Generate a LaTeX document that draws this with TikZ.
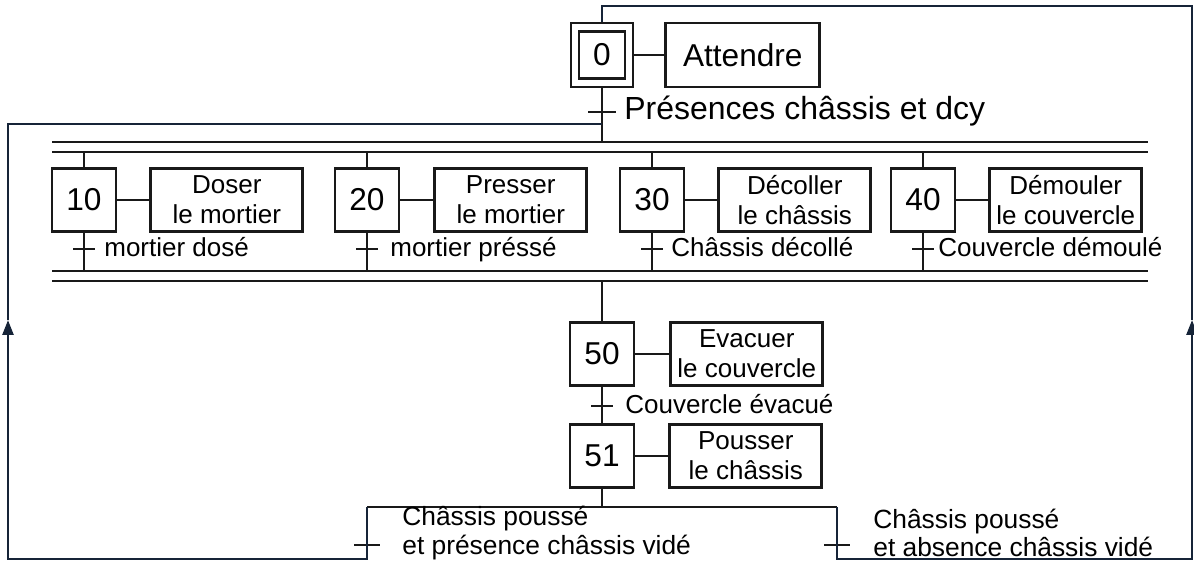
\documentclass[tikz,border=0pt]{standalone}
\usepackage{fontspec}
\setmainfont{Liberation Sans}
\usepackage{tikz}
\usetikzlibrary{arrows.meta, positioning}
\definecolor{linecol} {RGB}{25, 25, 25}
\definecolor{backclr} {RGB}{22, 36, 56}

\begin{document}
\begin{tikzpicture}[x=0.02cm, y=-0.02cm,
  stepbox/.style={draw=linecol, line width=1.6pt, minimum width=1.28cm, minimum height=1.26cm,
    inner sep=0pt, font=\fontsize{18}{20}\selectfont},
  actbox/.style={draw=linecol, line width=1.6pt, minimum width=3.04cm, minimum height=1.26cm,
    inner sep=0pt, align=center, font=\fontsize{14.8}{17}\selectfont},
  link/.style={linecol, line width=1.4pt},
  trans/.style={linecol, line width=1.6pt},
  syncbar/.style={linecol, line width=1.6pt},
  cond/.style={inner sep=0pt, text height=2.1ex, text depth=0.4ex, font=\fontsize{14.8}{16}\selectfont},
  condtwo/.style={inner sep=0pt, align=left, font=\fontsize{15}{16}\selectfont},
  backline/.style={backclr, line width=1.4pt},
  backtip/.style={-{Triangle[length=0.3cm, width=0.22cm]}}]
  \useasboundingbox (0,0) rectangle (1194,564);
  % bar levels
  \coordinate (barA) at (0,142);
  \coordinate (barB) at (0,152);
  \coordinate (barC) at (0,271);
  \coordinate (barD) at (0,281);
  % initial step
  \node[stepbox, minimum width=1.24cm, minimum height=1.28cm] (s0) at (602,55) {};
  \node[stepbox, minimum width=0.92cm, minimum height=0.94cm] (s0in) at (s0) {0};
  \node[actbox, right=0.6cm of s0, minimum width=3.08cm, minimum height=1.28cm,
    font=\fontsize{18}{20}\selectfont] (a0) {Attendre};
  \draw[link] (s0) -- (a0);
  \coordinate (t0) at (602,112);
  \draw[link] (s0.south) -- (s0.south |- barA);
  \draw[trans] (t0) ++(-14,0) -- ++(28,0);
  \node[cond, right=0.44cm of t0, font=\fontsize{18.2}{20}\selectfont] (c0) {Présences châssis et dcy};
  % simultaneous divergence
  \draw[syncbar] (52,142) -- (1148,142);
  \draw[syncbar] (52,152) -- (1148,152);
  % step 10
  \node[stepbox] (s10) at (84,200) {10};
  \node[actbox, right=0.64cm of s10] (a10) {Doser\\le mortier};
  \draw[link] (s10) -- (a10);
  \draw[link] (s10.north) -- (s10.north |- barB);
  \draw[link] (s10.south) -- (s10.south |- barC);
  \coordinate (t10) at (84,249);
  \draw[trans] (t10) ++(-11,0) -- ++(22,0);
  \node[cond, right=0.4cm of t10] (c10) {mortier dosé};
  % step 20
  \node[stepbox] (s20) at (367,200) {20};
  \node[actbox, right=0.66cm of s20] (a20) {Presser\\le mortier};
  \draw[link] (s20) -- (a20);
  \draw[link] (s20.north) -- (s20.north |- barB);
  \draw[link] (s20.south) -- (s20.south |- barC);
  \coordinate (t20) at (367,249);
  \draw[trans] (t20) ++(-11,0) -- ++(22,0);
  \node[cond, right=0.46cm of t20] (c20) {mortier préssé};
  % step 30
  \node[stepbox] (s30) at (652,200) {30};
  \node[actbox, right=0.64cm of s30] (a30) {Décoller\\le châssis};
  \draw[link] (s30) -- (a30);
  \draw[link] (s30.north) -- (s30.north |- barB);
  \draw[link] (s30.south) -- (s30.south |- barC);
  \coordinate (t30) at (652,249);
  \draw[trans] (t30) ++(-11,0) -- ++(22,0);
  \node[cond, right=0.38cm of t30] (c30) {Châssis décollé};
  % step 40
  \node[stepbox] (s40) at (923,200) {40};
  \node[actbox, right=0.64cm of s40] (a40) {Démouler\\le couvercle};
  \draw[link] (s40) -- (a40);
  \draw[link] (s40.north) -- (s40.north |- barB);
  \draw[link] (s40.south) -- (s40.south |- barC);
  \coordinate (t40) at (923,249);
  \draw[trans] (t40) ++(-11,0) -- ++(22,0);
  \node[cond, right=0.3cm of t40] (c40) {Couvercle démoulé};
  % simultaneous convergence
  \draw[syncbar] (52,271) -- (1148,271);
  \draw[syncbar] (52,281) -- (1148,281);
  % steps 50 and 51
  \node[stepbox] (s50) at (602,354) {50};
  \node[actbox, right=0.68cm of s50] (a50) {Evacuer\\le couvercle};
  \draw[link] (s50) -- (a50);
  \draw[link] (s50.north |- barD) -- (s50.north);
  \coordinate (t50) at (602,406);
  \node[stepbox] (s51) at (602,456) {51};
  \node[actbox, right=0.66cm of s51] (a51) {Pousser\\le châssis};
  \draw[link] (s51) -- (a51);
  \draw[link] (s50) -- (s51);
  \draw[trans] (t50) ++(-11,0) -- ++(22,0);
  \node[cond, right=0.46cm of t50] (c50) {Couvercle évacué};
  % choice divergence
  \coordinate (orL) at (367,507);
  \coordinate (orR) at (837,507);
  \draw[link] (s51.south) -- (s51.south |- orL);
  \draw[link] (orL) -- (orR);
  \coordinate (tL) at (367,545);
  \coordinate (tR) at (837,545);
  \draw[trans] (tL) ++(-13,0) -- ++(26,0);
  \draw[trans] (tR) ++(-13,0) -- ++(26,0);
  \node[condtwo, right=0.7cm of tL, yshift=0.24cm] (cL) {Châssis poussé\\et présence châssis vidé};
  \node[condtwo, right=0.72cm of tR, yshift=0.24cm] (cR) {Châssis poussé\\et absence châssis vidé};
  % return to step 0 (left)
  \coordinate (bl) at (367,559);
  \coordinate (cornerBL) at (8,559);
  \coordinate (arrowL) at (8,320);
  \coordinate (cornerTL) at (8,124);
  \coordinate (joinL) at (602,124);
  \draw[backline, backtip] (orL) -- (bl) -- (cornerBL) -- (arrowL);
  \draw[backline] (arrowL) -- (cornerTL) -- (joinL);
  % return to step 0 (right)
  \coordinate (br) at (837,559);
  \coordinate (cornerBR) at (1192,559);
  \coordinate (arrowR) at (1192,320);
  \coordinate (cornerTR) at (1192,6);
  \coordinate (cornerTT) at (602,6);
  \draw[backline, backtip] (orR) -- (br) -- (cornerBR) -- (arrowR);
  \draw[backline] (arrowR) -- (cornerTR) -- (cornerTT) -- (s0.north);
\end{tikzpicture}
\end{document}
